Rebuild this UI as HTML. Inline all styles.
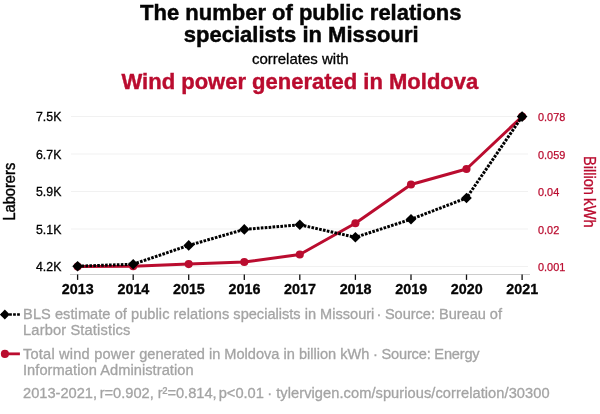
<!DOCTYPE html>
<html><head><meta charset="utf-8">
<style>
html,body{margin:0;padding:0;background:#fff;}
body{width:600px;height:414px;overflow:hidden;font-family:"Liberation Sans",sans-serif;}
svg{display:block;will-change:transform;}
text{font-family:"Liberation Sans",sans-serif;}
</style></head><body>
<svg width="600" height="414" viewBox="0 0 600 414">
<rect width="600" height="414" fill="#fff"/>
<text x="300.8" y="20" text-anchor="middle" font-size="22" font-weight="bold" fill="#050505" stroke="#050505" stroke-width="0.45">The number of public relations</text>
<text x="301.2" y="41.7" text-anchor="middle" font-size="22" font-weight="bold" fill="#050505" stroke="#050505" stroke-width="0.45">specialists in Missouri</text>
<text x="300.3" y="63.6" text-anchor="middle" font-size="15" fill="#000" stroke="#000" stroke-width="0.3">correlates with</text>
<text x="299.9" y="89.4" text-anchor="middle" font-size="22" font-weight="bold" fill="#ba0c2f" stroke="#ba0c2f" stroke-width="0.4">Wind power generated in Moldova</text>
<g stroke="#f1f1f1" stroke-width="1">
<line x1="71" x2="528" y1="116.5" y2="116.5"/>
<line x1="71" x2="528" y1="154" y2="154"/>
<line x1="71" x2="528" y1="191.5" y2="191.5"/>
<line x1="71" x2="528" y1="229" y2="229"/>
<line x1="71" x2="528" y1="266.5" y2="266.5"/>
</g>
<line x1="70" x2="530" y1="274.5" y2="274.5" stroke="#cccccc" stroke-width="1"/>
<g stroke="#111" stroke-width="1.3">
<line x1="77.6" x2="77.6" y1="274.5" y2="279.9"/>
<line x1="133.2" x2="133.2" y1="274.5" y2="279.9"/>
<line x1="188.7" x2="188.7" y1="274.5" y2="279.9"/>
<line x1="244.3" x2="244.3" y1="274.5" y2="279.9"/>
<line x1="299.8" x2="299.8" y1="274.5" y2="279.9"/>
<line x1="355.4" x2="355.4" y1="274.5" y2="279.9"/>
<line x1="411.0" x2="411.0" y1="274.5" y2="279.9"/>
<line x1="466.5" x2="466.5" y1="274.5" y2="279.9"/>
<line x1="522.1" x2="522.1" y1="274.5" y2="279.9"/>
</g>
<g font-size="12.3" fill="#000" stroke="#000" stroke-width="0.3">
<text x="35.9" y="121.3" textLength="25.5" lengthAdjust="spacing">7.5K</text>
<text x="35.9" y="158.8" textLength="25.5" lengthAdjust="spacing">6.7K</text>
<text x="35.9" y="196.3" textLength="25.5" lengthAdjust="spacing">5.9K</text>
<text x="35.9" y="233.8" textLength="25.5" lengthAdjust="spacing">5.1K</text>
<text x="35.9" y="271.3" textLength="25.5" lengthAdjust="spacing">4.2K</text>
</g>
<g font-size="10.9" fill="#ba0c2f" stroke="#ba0c2f" stroke-width="0.25">
<text x="538" y="121.0">0.078</text>
<text x="538" y="158.5">0.059</text>
<text x="538" y="196.0">0.04</text>
<text x="538" y="233.5">0.02</text>
<text x="538" y="271.0">0.001</text>
</g>
<g font-size="14.6" font-weight="bold" fill="#050505" stroke="#050505" stroke-width="0.3" text-anchor="middle">
<text x="77.8" y="294.2" textLength="31.9" lengthAdjust="spacingAndGlyphs">2013</text>
<text x="133.4" y="294.2" textLength="31.9" lengthAdjust="spacingAndGlyphs">2014</text>
<text x="188.9" y="294.2" textLength="31.9" lengthAdjust="spacingAndGlyphs">2015</text>
<text x="244.5" y="294.2" textLength="31.9" lengthAdjust="spacingAndGlyphs">2016</text>
<text x="300.0" y="294.2" textLength="31.9" lengthAdjust="spacingAndGlyphs">2017</text>
<text x="355.6" y="294.2" textLength="31.9" lengthAdjust="spacingAndGlyphs">2018</text>
<text x="411.2" y="294.2" textLength="31.9" lengthAdjust="spacingAndGlyphs">2019</text>
<text x="466.7" y="294.2" textLength="31.9" lengthAdjust="spacingAndGlyphs">2020</text>
<text x="522.3" y="294.2" textLength="31.9" lengthAdjust="spacingAndGlyphs">2021</text>
</g>
<text transform="translate(15.3,191.7) rotate(-90)" text-anchor="middle" font-size="16.2" textLength="57.8" lengthAdjust="spacingAndGlyphs" fill="#000" stroke="#000" stroke-width="0.4">Laborers</text>
<g transform="translate(583.8,0) rotate(90)" font-size="16.2" fill="#ba0c2f" stroke="#ba0c2f" stroke-width="0.3"><text x="156" y="0" textLength="39" lengthAdjust="spacingAndGlyphs">Billion</text><text x="198" y="0" textLength="29.8" lengthAdjust="spacingAndGlyphs">kWh</text></g>
<polyline fill="none" stroke="#ba0c2f" stroke-width="3" stroke-linejoin="round" points="77.6,266.5 133.2,266.2 188.7,264.1 244.3,262.0 299.8,254.5 355.4,223.3 411.0,184.5 466.5,169.0 522.1,116.6"/>
<g fill="#ba0c2f"><circle cx="77.6" cy="266.5" r="4.05"/><circle cx="133.2" cy="266.2" r="4.05"/><circle cx="188.7" cy="264.1" r="4.05"/><circle cx="244.3" cy="262.0" r="4.05"/><circle cx="299.8" cy="254.5" r="4.05"/><circle cx="355.4" cy="223.3" r="4.05"/><circle cx="411.0" cy="184.5" r="4.05"/><circle cx="466.5" cy="169.0" r="4.05"/><circle cx="522.1" cy="116.6" r="4.05"/></g>
<g stroke="#000" stroke-width="3"><line x1="77.60" y1="266.20" x2="80.23" y2="266.11"/><line x1="81.53" y1="266.06" x2="84.16" y2="265.96"/><line x1="85.45" y1="265.92" x2="88.08" y2="265.82"/><line x1="89.38" y1="265.78" x2="92.01" y2="265.68"/><line x1="93.31" y1="265.63" x2="95.94" y2="265.54"/><line x1="97.24" y1="265.49" x2="99.87" y2="265.40"/><line x1="101.16" y1="265.35" x2="103.79" y2="265.26"/><line x1="105.09" y1="265.21" x2="107.72" y2="265.12"/><line x1="109.02" y1="265.07" x2="111.65" y2="264.97"/><line x1="112.95" y1="264.93" x2="115.58" y2="264.83"/><line x1="116.87" y1="264.79" x2="119.50" y2="264.69"/><line x1="120.80" y1="264.64" x2="123.43" y2="264.55"/><line x1="124.73" y1="264.50" x2="127.36" y2="264.41"/><line x1="128.66" y1="264.36" x2="131.29" y2="264.27"/><line x1="132.58" y1="264.22" x2="133.16" y2="264.20"/><line x1="133.16" y1="264.20" x2="135.11" y2="263.54"/><line x1="136.34" y1="263.12" x2="138.83" y2="262.28"/><line x1="140.06" y1="261.87" x2="142.55" y2="261.02"/><line x1="143.78" y1="260.61" x2="146.27" y2="259.76"/><line x1="147.51" y1="259.35" x2="150.00" y2="258.50"/><line x1="151.23" y1="258.09" x2="153.72" y2="257.24"/><line x1="154.95" y1="256.83" x2="157.44" y2="255.98"/><line x1="158.67" y1="255.57" x2="161.16" y2="254.72"/><line x1="162.40" y1="254.31" x2="164.89" y2="253.46"/><line x1="166.12" y1="253.05" x2="168.61" y2="252.20"/><line x1="169.84" y1="251.79" x2="172.33" y2="250.95"/><line x1="173.56" y1="250.53" x2="176.05" y2="249.69"/><line x1="177.29" y1="249.27" x2="179.78" y2="248.43"/><line x1="181.01" y1="248.01" x2="183.50" y2="247.17"/><line x1="184.73" y1="246.75" x2="187.22" y2="245.91"/><line x1="188.45" y1="245.49" x2="188.72" y2="245.40"/><line x1="188.72" y1="245.40" x2="190.98" y2="244.75"/><line x1="192.23" y1="244.39" x2="194.75" y2="243.66"/><line x1="196.00" y1="243.30" x2="198.53" y2="242.57"/><line x1="199.78" y1="242.21" x2="202.31" y2="241.49"/><line x1="203.56" y1="241.13" x2="206.08" y2="240.40"/><line x1="207.33" y1="240.04" x2="209.86" y2="239.31"/><line x1="211.11" y1="238.95" x2="213.64" y2="238.22"/><line x1="214.89" y1="237.86" x2="217.41" y2="237.14"/><line x1="218.66" y1="236.78" x2="221.19" y2="236.05"/><line x1="222.44" y1="235.69" x2="224.97" y2="234.96"/><line x1="226.22" y1="234.60" x2="228.74" y2="233.87"/><line x1="229.99" y1="233.51" x2="232.52" y2="232.79"/><line x1="233.77" y1="232.43" x2="236.30" y2="231.70"/><line x1="237.55" y1="231.34" x2="240.07" y2="230.61"/><line x1="241.32" y1="230.25" x2="243.85" y2="229.52"/><line x1="245.13" y1="229.33" x2="247.75" y2="229.11"/><line x1="249.05" y1="229.01" x2="251.67" y2="228.79"/><line x1="252.96" y1="228.68" x2="255.58" y2="228.46"/><line x1="256.88" y1="228.36" x2="259.50" y2="228.14"/><line x1="260.80" y1="228.03" x2="263.42" y2="227.82"/><line x1="264.71" y1="227.71" x2="267.33" y2="227.49"/><line x1="268.63" y1="227.38" x2="271.25" y2="227.17"/><line x1="272.54" y1="227.06" x2="275.17" y2="226.84"/><line x1="276.46" y1="226.74" x2="279.08" y2="226.52"/><line x1="280.38" y1="226.41" x2="283.00" y2="226.19"/><line x1="284.29" y1="226.09" x2="286.92" y2="225.87"/><line x1="288.21" y1="225.76" x2="290.83" y2="225.55"/><line x1="292.13" y1="225.44" x2="294.75" y2="225.22"/><line x1="296.04" y1="225.11" x2="298.67" y2="224.90"/><line x1="299.96" y1="224.83" x2="302.52" y2="225.40"/><line x1="303.79" y1="225.69" x2="306.36" y2="226.27"/><line x1="307.63" y1="226.55" x2="310.19" y2="227.13"/><line x1="311.46" y1="227.41" x2="314.03" y2="227.99"/><line x1="315.30" y1="228.28" x2="317.86" y2="228.85"/><line x1="319.13" y1="229.14" x2="321.70" y2="229.72"/><line x1="322.96" y1="230.00" x2="325.53" y2="230.58"/><line x1="326.80" y1="230.86" x2="329.36" y2="231.44"/><line x1="330.63" y1="231.73" x2="333.20" y2="232.30"/><line x1="334.47" y1="232.59" x2="337.03" y2="233.17"/><line x1="338.30" y1="233.45" x2="340.87" y2="234.03"/><line x1="342.13" y1="234.32" x2="344.70" y2="234.89"/><line x1="345.97" y1="235.18" x2="348.53" y2="235.76"/><line x1="349.80" y1="236.04" x2="352.37" y2="236.62"/><line x1="353.64" y1="236.90" x2="355.40" y2="237.30"/><line x1="355.40" y1="237.30" x2="356.18" y2="237.05"/><line x1="357.42" y1="236.65" x2="359.92" y2="235.84"/><line x1="361.16" y1="235.43" x2="363.66" y2="234.62"/><line x1="364.90" y1="234.22" x2="367.40" y2="233.41"/><line x1="368.64" y1="233.01" x2="371.14" y2="232.20"/><line x1="372.37" y1="231.80" x2="374.88" y2="230.99"/><line x1="376.11" y1="230.59" x2="378.61" y2="229.78"/><line x1="379.85" y1="229.38" x2="382.35" y2="228.57"/><line x1="383.59" y1="228.17" x2="386.09" y2="227.36"/><line x1="387.33" y1="226.96" x2="389.83" y2="226.15"/><line x1="391.07" y1="225.74" x2="393.57" y2="224.93"/><line x1="394.81" y1="224.53" x2="397.31" y2="223.72"/><line x1="398.54" y1="223.32" x2="401.05" y2="222.51"/><line x1="402.28" y1="222.11" x2="404.79" y2="221.30"/><line x1="406.02" y1="220.90" x2="408.52" y2="220.09"/><line x1="409.76" y1="219.69" x2="410.96" y2="219.30"/><line x1="410.96" y1="219.30" x2="412.24" y2="218.81"/><line x1="413.45" y1="218.34" x2="415.91" y2="217.40"/><line x1="417.12" y1="216.94" x2="419.58" y2="216.00"/><line x1="420.79" y1="215.53" x2="423.25" y2="214.59"/><line x1="424.46" y1="214.12" x2="426.92" y2="213.18"/><line x1="428.13" y1="212.72" x2="430.59" y2="211.78"/><line x1="431.80" y1="211.31" x2="434.26" y2="210.37"/><line x1="435.47" y1="209.90" x2="437.93" y2="208.96"/><line x1="439.14" y1="208.50" x2="441.60" y2="207.56"/><line x1="442.81" y1="207.09" x2="445.27" y2="206.15"/><line x1="446.48" y1="205.68" x2="448.93" y2="204.74"/><line x1="450.15" y1="204.28" x2="452.60" y2="203.33"/><line x1="453.82" y1="202.87" x2="456.27" y2="201.93"/><line x1="457.49" y1="201.46" x2="459.94" y2="200.52"/><line x1="461.16" y1="200.06" x2="463.61" y2="199.11"/><line x1="464.83" y1="198.65" x2="466.52" y2="198.00"/><line x1="466.52" y1="198.00" x2="466.98" y2="197.33"/><line x1="467.71" y1="196.25" x2="469.20" y2="194.08"/><line x1="469.93" y1="193.01" x2="471.41" y2="190.83"/><line x1="472.14" y1="189.76" x2="473.63" y2="187.59"/><line x1="474.36" y1="186.51" x2="475.84" y2="184.34"/><line x1="476.58" y1="183.27" x2="478.06" y2="181.10"/><line x1="478.79" y1="180.02" x2="480.27" y2="177.85"/><line x1="481.01" y1="176.78" x2="482.49" y2="174.60"/><line x1="483.22" y1="173.53" x2="484.70" y2="171.36"/><line x1="485.44" y1="170.28" x2="486.92" y2="168.11"/><line x1="487.65" y1="167.04" x2="489.14" y2="164.87"/><line x1="489.87" y1="163.79" x2="491.35" y2="161.62"/><line x1="492.08" y1="160.55" x2="493.57" y2="158.37"/><line x1="494.30" y1="157.30" x2="495.78" y2="155.13"/><line x1="496.52" y1="154.05" x2="498.00" y2="151.88"/><line x1="498.73" y1="150.81" x2="500.21" y2="148.64"/><line x1="500.95" y1="147.56" x2="502.43" y2="145.39"/><line x1="503.16" y1="144.32" x2="504.64" y2="142.14"/><line x1="505.38" y1="141.07" x2="506.86" y2="138.90"/><line x1="507.59" y1="137.82" x2="509.08" y2="135.65"/><line x1="509.81" y1="134.58" x2="511.29" y2="132.41"/><line x1="512.02" y1="131.33" x2="513.51" y2="129.16"/><line x1="514.24" y1="128.09" x2="515.72" y2="125.91"/><line x1="516.46" y1="124.84" x2="517.94" y2="122.67"/><line x1="518.67" y1="121.59" x2="520.15" y2="119.42"/><line x1="520.89" y1="118.35" x2="522.08" y2="116.60"/></g>
<g fill="#000"><path d="M77.6,260.9 l5.3,5.3 l-5.3,5.3 l-5.3,-5.3z"/><path d="M133.2,258.9 l5.3,5.3 l-5.3,5.3 l-5.3,-5.3z"/><path d="M188.7,240.1 l5.3,5.3 l-5.3,5.3 l-5.3,-5.3z"/><path d="M244.3,224.1 l5.3,5.3 l-5.3,5.3 l-5.3,-5.3z"/><path d="M299.8,219.5 l5.3,5.3 l-5.3,5.3 l-5.3,-5.3z"/><path d="M355.4,232.0 l5.3,5.3 l-5.3,5.3 l-5.3,-5.3z"/><path d="M411.0,214.0 l5.3,5.3 l-5.3,5.3 l-5.3,-5.3z"/><path d="M466.5,192.7 l5.3,5.3 l-5.3,5.3 l-5.3,-5.3z"/><path d="M522.1,111.3 l5.3,5.3 l-5.3,5.3 l-5.3,-5.3z"/></g>
<line x1="1.1" x2="19.9" y1="314.5" y2="314.5" stroke="#000" stroke-width="2.7" stroke-dasharray="2.75,1.25"/>
<path d="M4.85,309.6 l4.95,5 l-4.95,5 l-4.95,-5z" fill="#000"/>
<line x1="4" x2="19.9" y1="353.85" y2="353.85" stroke="#ba0c2f" stroke-width="2.8"/>
<circle cx="4.9" cy="353.9" r="4.05" fill="#ba0c2f"/>
<g font-size="14.65" fill="#a4a4a4" stroke="#a4a4a4" stroke-width="0.3" transform="scale(1,1.04)">
<text x="23.1" y="306.54" font-size="14.6"><tspan letter-spacing="0.06">BLS estimate of public relations </tspan>specialists in Missouri<tspan dx="-1.8"> · </tspan><tspan dx="-0.6" letter-spacing="-0.03">Source: Bureau of</tspan></text>
<text x="23.1" y="321.92" textLength="107.2" lengthAdjust="spacing">Larbor Statistics</text>
<text x="23" y="345.10" font-size="14.6"><tspan letter-spacing="0.21">Total wind power </tspan>generated in Moldova in billion kWh<tspan dx="-0.4"> · </tspan><tspan dx="-0.4" letter-spacing="-0.19">Source: Energy</tspan></text>
<text x="23" y="360.48" textLength="170.6" lengthAdjust="spacing">Information Administration</text>
<text x="23" y="382.98">2013-2021, <tspan dx="-1.5">r=0.902, </tspan><tspan dx="-0.25">r²=0.814, </tspan><tspan dx="-2">p&lt;0.01 </tspan><tspan dx="-0.75">· </tspan><tspan letter-spacing="0.06">tylervigen.com/spurious/correlation/30300</tspan></text>
</g>
</svg>
</body></html>
